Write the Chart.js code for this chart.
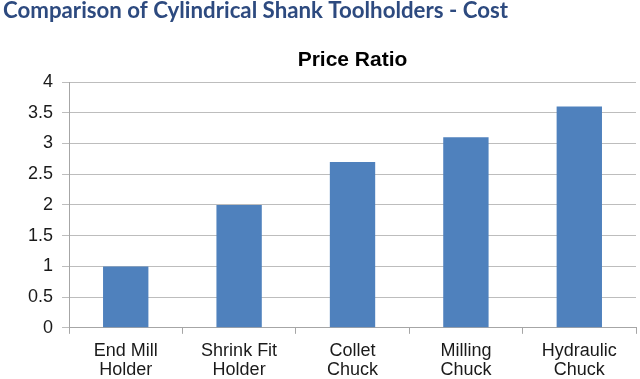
<!DOCTYPE html>
<html>
<head>
<meta charset="utf-8">
<script src="https://cdn.jsdelivr.net/npm/chart.js@4"></script>
<style>
  html, body { margin: 0; padding: 0; background: #fff; }
  #wrap { width: 640px; height: 379px; position: relative; }
</style>
</head>
<body>
<div id="wrap"><canvas id="chart"></canvas></div>
<script>
const headerText = "Comparison of Cylindrical Shank Toolholders - Cost";
const chartTitle = "Price Ratio";
const categories = [
  ["End Mill", "Holder"],
  ["Shrink Fit", "Holder"],
  ["Collet", "Chuck"],
  ["Milling", "Chuck"],
  ["Hydraulic", "Chuck"]
];
const priceRatio = [1, 2, 2.7, 3.1, 3.6];
const yTicks = [0, 0.5, 1, 1.5, 2, 2.5, 3, 3.5, 4];

Chart.defaults.font.family = '"Liberation Sans", Arial, sans-serif';
Chart.defaults.color = "#1a1a1a";

// header line + chart title, drawn over the canvas
const headings = {
  id: "headings",
  afterDraw(chart) {
    const ctx = chart.ctx;
    const area = chart.chartArea;
    ctx.save();
    ctx.fillStyle = "#2D4A7F";
    ctx.font = 'bold 23px Lato, "Open Sans", sans-serif';
    ctx.textBaseline = "alphabetic";
    ctx.textAlign = "left";
    const w = ctx.measureText(headerText).width;
    ctx.translate(3, 18);
    ctx.scale(505 / w, 1);
    ctx.fillText(headerText, 0, 0);
    ctx.restore();

    ctx.save();
    ctx.fillStyle = "#000";
    ctx.font = 'bold 21px "Liberation Sans", Arial, sans-serif';
    ctx.textAlign = "center";
    ctx.textBaseline = "alphabetic";
    ctx.fillText(chartTitle, (area.left + area.right) / 2, 66);
    ctx.restore();
  }
};

new Chart(document.getElementById("chart"), {
  type: "bar",
  data: {
    labels: categories,
    datasets: [{
      label: chartTitle,
      data: priceRatio,
      backgroundColor: "#4F81BD",
      borderWidth: 0,
      categoryPercentage: 1,
      barPercentage: 0.4
    }]
  },
  options: {
    responsive: true,
    maintainAspectRatio: false,
    animation: false,
    layout: { padding: { top: 82, left: 19, right: 4, bottom: -9 } },
    plugins: {
      legend: { display: false },
      title: { display: false },
      tooltip: { enabled: false }
    },
    scales: {
      x: {
        grid: {
          drawOnChartArea: false,
          drawTicks: true,
          tickLength: 6,
          color: "#a6a6a6"
        },
        border: { display: true, color: "#a6a6a6" },
        ticks: {
          font: { size: 18, lineHeight: 1.06 },
          color: "#1a1a1a",
          padding: 8,
          maxRotation: 0,
          autoSkip: false
        }
      },
      y: {
        min: 0,
        max: 4,
        afterBuildTicks(scale) {
          scale.ticks = yTicks.map(v => ({ value: v }));
        },
        grid: {
          color: "#bdbdbd",
          tickLength: 7,
          drawTicks: true
        },
        border: { display: true, color: "#a6a6a6" },
        ticks: {
          font: { size: 18 },
          color: "#1a1a1a",
          padding: 9,
          callback: v => String(v)
        }
      }
    }
  },
  plugins: [headings]
});
</script>
</body>
</html>
